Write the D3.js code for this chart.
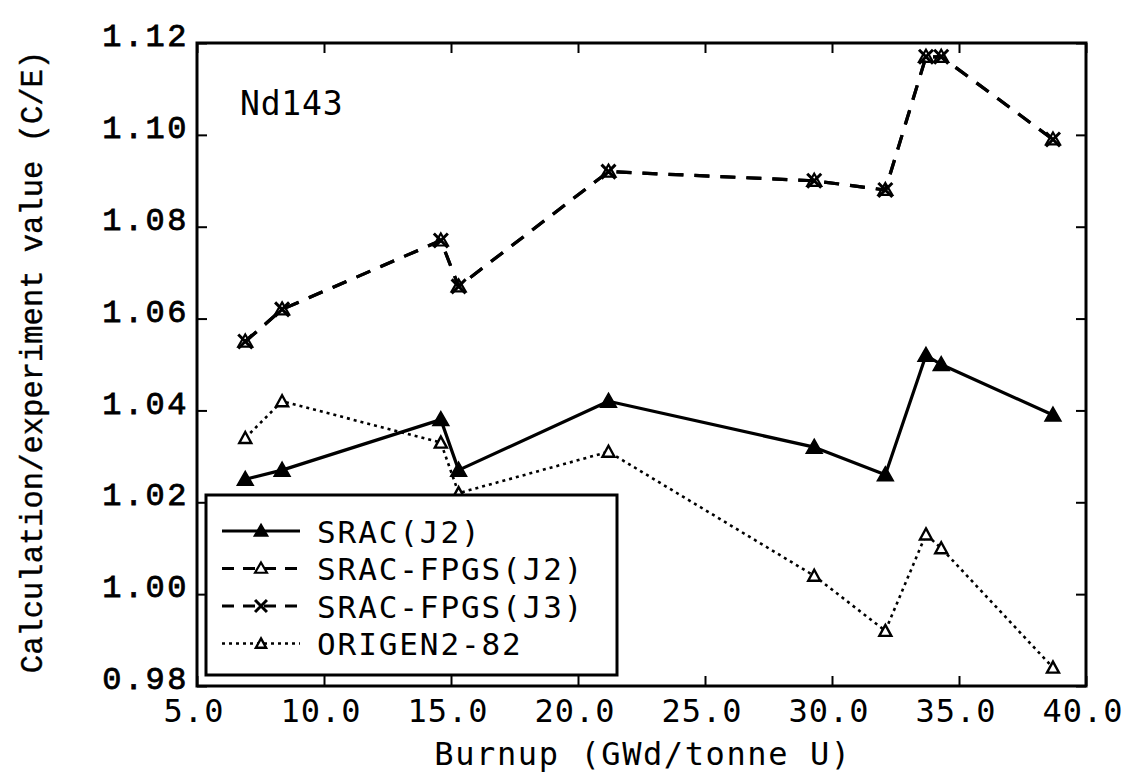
<!DOCTYPE html>
<html>
<head>
<meta charset="utf-8">
<script src="https://cdn.jsdelivr.net/npm/d3@7"></script>
<style>
  html, body { margin: 0; padding: 0; background: #fff; }
  svg { display: block; }
</style>
</head>
<body>
<svg id="chart" width="1147" height="776"></svg>
<script>
// Burnup points (GWd/tonne U) shared by all calculations
const burnup = [6.9, 8.35, 14.6, 15.3, 21.2, 29.3, 32.1, 33.7, 34.3, 38.7];

// C/E ratios for Nd143
const sracJ2     = [1.025, 1.027, 1.038, 1.027, 1.042, 1.032, 1.026, 1.052, 1.050, 1.039];
const fpgsJ2     = [1.055, 1.062, 1.077, 1.067, 1.092, 1.090, 1.088, 1.117, 1.117, 1.099];
const fpgsJ3     = [1.055, 1.062, 1.077, 1.067, 1.092, 1.090, 1.088, 1.117, 1.117, 1.099];
const origen     = [1.034, 1.042, 1.033, 1.022, 1.031, 1.004, 0.992, 1.013, 1.010, 0.984];

const seriesNames = ["SRAC(J2)", "SRAC-FPGS(J2)", "SRAC-FPGS(J3)", "ORIGEN2-82"];

const xTicks = [5, 10, 15, 20, 25, 30, 35, 40];
const yTicks = [0.98, 1.00, 1.02, 1.04, 1.06, 1.08, 1.10, 1.12];

const svg = d3.select("#chart");
const plotLeft = 197, plotRight = 1086, plotTop = 43, plotBottom = 686;

const x = d3.scaleLinear().domain([5, 40]).range([plotLeft, plotRight]);
const y = d3.scaleLinear().domain([0.98, 1.12]).range([plotBottom, plotTop]);

const monoSans = "'DejaVu Sans Mono', monospace";
const monoSerif = "'Liberation Mono', 'Courier New', monospace";

// series styling
const series = [
  { name: seriesNames[0], values: sracJ2, dash: null, width: 3.2, marker: "triFilled" },
  { name: seriesNames[1], values: fpgsJ2, dash: "15,11", width: 3.2, marker: "triOpen" },
  { name: seriesNames[2], values: fpgsJ3, dash: "15,11", width: 3.2, marker: "cross" },
  { name: seriesNames[3], values: origen, dash: "3,4", width: 2.6, marker: "triSmall" }
];

function drawMarker(g, type, cx, cy, scale = 1) {
  const k = scale;
  if (type === "triFilled") {
    g.append("path")
      .attr("d", `M${cx},${cy - 8 * k} L${cx + 8 * k},${cy + 6 * k} L${cx - 8 * k},${cy + 6 * k} Z`)
      .attr("fill", "#000").attr("stroke", "#000").attr("stroke-width", 1.5);
  } else if (type === "triOpen") {
    g.append("path")
      .attr("d", `M${cx},${cy - 7 * k} L${cx + 7 * k},${cy + 5 * k} L${cx - 7 * k},${cy + 5 * k} Z`)
      .attr("fill", "none").attr("stroke", "#000").attr("stroke-width", 2.2);
  } else if (type === "triSmall") {
    g.append("path")
      .attr("d", `M${cx},${cy - 6 * k} L${cx + 6 * k},${cy + 5 * k} L${cx - 6 * k},${cy + 5 * k} Z`)
      .attr("fill", "#fff").attr("stroke", "#000").attr("stroke-width", 2.4);
  } else if (type === "cross") {
    g.append("path")
      .attr("d", `M${cx - 7 * k},${cy - 7 * k} L${cx + 7 * k},${cy + 7 * k} M${cx + 7 * k},${cy - 7 * k} L${cx - 7 * k},${cy + 7 * k}`)
      .attr("fill", "none").attr("stroke", "#000").attr("stroke-width", 3);
  }
}

// data lines
const line = d3.line().x(d => x(d[0])).y(d => y(d[1]));
const plot = svg.append("g");
series.forEach(s => {
  const pts = burnup.map((b, i) => [b, s.values[i]]);
  plot.append("path")
    .attr("d", line(pts))
    .attr("fill", "none")
    .attr("stroke", "#000")
    .attr("stroke-width", s.width)
    .attr("stroke-dasharray", s.dash)
    .attr("stroke-linejoin", "round");
});
series.forEach(s => {
  burnup.forEach((b, i) => drawMarker(plot, s.marker, x(b), y(s.values[i])));
});

// frame and ticks on all four sides, pointing inward
const axes = svg.append("g");
axes.append("g").attr("transform", `translate(0,${plotBottom})`)
  .call(d3.axisBottom(x).tickValues(xTicks).tickSizeInner(-10).tickSizeOuter(0).tickFormat(""));
axes.append("g").attr("transform", `translate(0,${plotTop})`)
  .call(d3.axisTop(x).tickValues(xTicks).tickSizeInner(-10).tickSizeOuter(0).tickFormat(""));
axes.append("g").attr("transform", `translate(${plotLeft},0)`)
  .call(d3.axisLeft(y).tickValues(yTicks).tickSizeInner(-10).tickSizeOuter(0).tickFormat(""));
axes.append("g").attr("transform", `translate(${plotRight},0)`)
  .call(d3.axisRight(y).tickValues(yTicks).tickSizeInner(-10).tickSizeOuter(0).tickFormat(""));
axes.selectAll(".domain").remove();
axes.selectAll(".tick line").attr("stroke", "#000").attr("stroke-width", 2);
axes.append("rect")
  .attr("x", plotLeft).attr("y", plotTop)
  .attr("width", plotRight - plotLeft).attr("height", plotBottom - plotTop)
  .attr("fill", "none").attr("stroke", "#000").attr("stroke-width", 3);

// tick labels
svg.append("g").selectAll("text").data(xTicks).join("text")
  .attr("x", d => x(d) - 3)
  .attr("y", 722)
  .attr("text-anchor", "middle")
  .attr("font-family", monoSans)
  .attr("font-size", 32)
  .attr("letter-spacing", 1)
  .attr("fill", "#000")
  .text(d => d.toFixed(1));

svg.append("g").selectAll("text").data(yTicks).join("text")
  .attr("x", 189)
  .attr("y", d => y(d) - 8)
  .attr("dy", "0.35em")
  .attr("text-anchor", "end")
  .attr("font-family", monoSerif)
  .attr("font-size", 32)
  .attr("letter-spacing", 2.5)
  .attr("fill", "#000")
  .attr("stroke", "#000")
  .attr("stroke-width", 0.8)
  .text(d => d.toFixed(2));

// axis titles
svg.append("text")
  .attr("x", 643).attr("y", 765)
  .attr("text-anchor", "middle")
  .attr("font-family", monoSans)
  .attr("font-size", 32)
  .attr("letter-spacing", 1.6)
  .attr("fill", "#000")
  .text("Burnup (GWd/tonne U)");

svg.append("text")
  .attr("transform", "translate(42,362) rotate(-90)")
  .attr("text-anchor", "middle")
  .attr("font-family", monoSerif)
  .attr("font-size", 30.5)
  .attr("fill", "#000")
  .attr("stroke", "#000")
  .attr("stroke-width", 0.4)
  .text("Calculation/experiment value (C/E)");

// nuclide label
svg.append("text")
  .attr("x", 240).attr("y", 115)
  .attr("font-family", monoSans)
  .attr("font-size", 33)
  .attr("letter-spacing", 0.8)
  .attr("fill", "#000")
  .text("Nd143");

// legend
const lg = svg.append("g");
lg.append("rect")
  .attr("x", 206).attr("y", 495).attr("width", 411).attr("height", 180)
  .attr("fill", "#fff").attr("stroke", "#000").attr("stroke-width", 3);
const rowY = [531, 568.5, 606, 643.5];
series.forEach((s, i) => {
  const yy = rowY[i];
  lg.append("line")
    .attr("x1", 222).attr("x2", 300).attr("y1", yy).attr("y2", yy)
    .attr("stroke", "#000")
    .attr("stroke-width", s.width)
    .attr("stroke-dasharray", s.dash ? (s.dash === "3,4" ? "3,4" : "12,9") : null);
  drawMarker(lg, s.marker, 261, yy, 0.85);
  lg.append("text")
    .attr("x", 317).attr("y", yy + 11.5)
    .attr("font-family", monoSans)
    .attr("font-size", 31)
    .attr("letter-spacing", 1.9)
    .attr("fill", "#000")
    .text(s.name);
});
</script>
</body>
</html>
